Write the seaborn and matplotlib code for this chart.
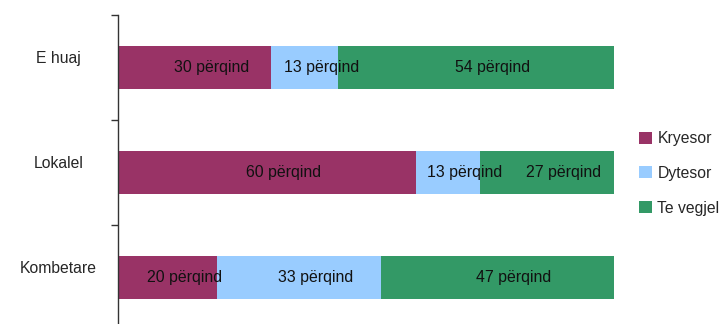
import numpy as np
import pandas as pd
import matplotlib
matplotlib.use("Agg")
import matplotlib.pyplot as plt
import seaborn as sns
from matplotlib.patches import Patch

# data
categories = ["E huaj", "Lokalel", "Kombetare"]
series = ["Kryesor", "Dytesor", "Te vegjel"]
kryesor = [30, 60, 20]
dytesor = [13, 13, 33]
te_vegjel = [54, 27, 47]
colors = ["#993366", "#99ccff", "#339966"]

sns.set_theme(style="white")
plt.rcParams["font.family"] = ["Liberation Sans", "DejaVu Sans"]

df = pd.DataFrame({"cat": categories, "Kryesor": kryesor,
                   "Dytesor": dytesor, "Te vegjel": te_vegjel})
total = df[series].sum(axis=1)
shares = df[series].div(total, axis=0)
cum = shares.cumsum(axis=1)

fig = plt.figure(figsize=(7.21, 3.24), dpi=100)
ax = fig.add_axes([118 / 721, -6 / 324, 496 / 721, 315 / 324])

# stacked by overlapping cumulative bars, widest first
for s, c in reversed(list(zip(series, colors))):
    sns.barplot(x=cum[s], y=df["cat"], orient="h", color=c, width=0.41,
                saturation=1, linewidth=0, edgecolor="none", ax=ax)

# labels in each segment
for i, row in df.iterrows():
    left = 0
    for s in series:
        w = shares.loc[i, s]
        ax.annotate(f"{row[s]} përqind", (left + w / 2, i), xytext=(12, 0),
                    textcoords="offset points", ha="center", va="center",
                    fontsize=11.4, color="#111111")
        left += w

ax.set_xlim(0, 1)
ax.set_ylim(len(categories) - 0.5, -0.5)
ax.set_xlabel("")
ax.set_ylabel("")
ax.set_xticks([])
for sp in ["top", "right", "bottom"]:
    ax.spines[sp].set_visible(False)
ax.spines["left"].set_color("#333333")
ax.spines["left"].set_linewidth(1)

ax.set_yticks(np.arange(len(categories)) - 0.1)
ax.set_yticklabels(categories, fontsize=11.3, ha="center")
ax.set_yticks(np.arange(len(categories) + 1) - 0.5, minor=True)
ax.tick_params(axis="y", which="major", length=0, pad=43)
ax.tick_params(axis="y", which="minor", left=True, length=5, width=1,
               color="#333333")

handles = [Patch(facecolor=c, edgecolor="none") for c in colors]
fig.legend(handles, series, loc="upper left", bbox_to_anchor=(633 / 721, 1 - 125 / 324),
           frameon=False, fontsize=11.3, handlelength=0.8, handleheight=0.8,
           handletextpad=0.35, labelspacing=1.25, borderaxespad=0)

fig.savefig("out.png", dpi=100)
